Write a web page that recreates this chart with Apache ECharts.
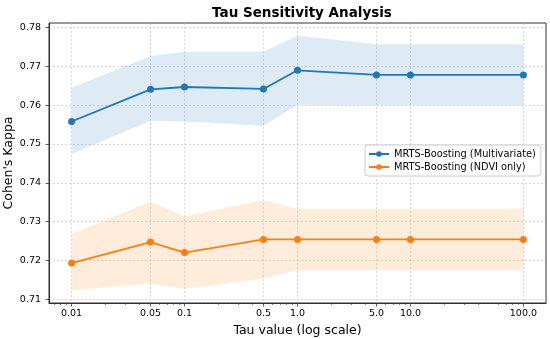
<!DOCTYPE html>
<html>
<head>
<meta charset="utf-8">
<script src="https://cdn.jsdelivr.net/npm/echarts@6/dist/echarts.min.js"></script>
<style>
html,body{margin:0;padding:0;background:#fff;}
#chart{width:550px;height:339px;}
</style>
</head>
<body>
<div id="chart"></div>
<script>
// ---- data ----
var tauValues = [0.01, 0.05, 0.1, 0.5, 1.0, 5.0, 10.0, 100.0];
var multiMean  = [0.7558, 0.7641, 0.7647, 0.7642, 0.7690, 0.7678, 0.7678, 0.7678];
var multiUpper = [0.7645, 0.7727, 0.7738, 0.7738, 0.7779, 0.7757, 0.7757, 0.7757];
var multiLower = [0.7474, 0.7560, 0.7558, 0.7547, 0.7601, 0.7600, 0.7600, 0.7600];
var ndviMean   = [0.7193, 0.7247, 0.7220, 0.7254, 0.7254, 0.7254, 0.7254, 0.7254];
var ndviUpper  = [0.7267, 0.7351, 0.7314, 0.7355, 0.7333, 0.7333, 0.7333, 0.7333];
var ndviLower  = [0.7123, 0.7140, 0.7126, 0.7153, 0.7175, 0.7175, 0.7175, 0.7175];

var xTickValues = [0.01, 0.05, 0.1, 0.5, 1, 5, 10, 100];
var xTickLabels = ['0.01', '0.05', '0.1', '0.5', '1.0', '5.0', '10.0', '100.0'];
var xMinorTicks = [0.007, 0.008, 0.009,
  0.02, 0.03, 0.04, 0.06, 0.07, 0.08, 0.09,
  0.2, 0.3, 0.4, 0.6, 0.7, 0.8, 0.9,
  2, 3, 4, 6, 7, 8, 9,
  20, 30, 40, 60, 70, 80, 90];
var yTickValues = [0.71, 0.72, 0.73, 0.74, 0.75, 0.76, 0.77, 0.78];

var seriesNames = ['MRTS-Boosting (Multivariate)', 'MRTS-Boosting (NDVI only)'];
var titleText = 'Tau Sensitivity Analysis';
var xName = 'Tau value (log scale)';
var yName = "Cohen's Kappa";

// ---- helpers ----
function pairs(xs, ys) { return xs.map(function (x, i) { return [x, ys[i]]; }); }
function triples(xs, lo, up) { return xs.map(function (x, i) { return [x, lo[i], up[i]]; }); }

var FONT = 'DejaVu Sans';
var BLUE = '#1f77b4', ORANGE = '#ff7f0e', AXIS = '#333333';

var chart = echarts.init(document.getElementById('chart'), null, {renderer: 'canvas'});

function bandSeries(lower, upper, color) {
  var data = triples(tauValues, lower, upper);
  return {
    type: 'custom', silent: true, z: 1, animation: false,
    data: data,
    encode: {x: 0, y: [1, 2]},
    renderItem: function (params, api) {
      if (params.dataIndex !== 0) return null;
      var pts = [], i;
      for (i = 0; i < data.length; i++) pts.push(api.coord([data[i][0], data[i][2]]));
      for (i = data.length - 1; i >= 0; i--) pts.push(api.coord([data[i][0], data[i][1]]));
      return {
        type: 'polygon',
        shape: {points: pts},
        style: {fill: color, opacity: 0.15, stroke: null}
      };
    }
  };
}

var option = {
  animation: false,
  backgroundColor: '#ffffff',
  textStyle: {fontFamily: FONT},
  title: {
    text: titleText,
    left: 297, top: 1, textAlign: 'center',
    textStyle: {fontFamily: FONT, fontSize: 13.5, fontWeight: 'bold', color: '#000'}
  },
  grid: {
    left: 49, right: 4, top: 23, bottom: 36,
    outerBoundsMode: 'none', containLabel: false,
    show: true, borderColor: AXIS, borderWidth: 1, backgroundColor: 'transparent'
  },
  legend: {
    orient: 'vertical',
    left: 365, top: 145,
    padding: [4, 5, 4, 3],
    itemGap: 3,
    itemWidth: 20, itemHeight: 7,
    backgroundColor: 'rgba(255,255,255,0.85)',
    borderColor: '#cccccc', borderWidth: 1, borderRadius: 3,
    textStyle: {fontFamily: FONT, fontSize: 9.8, color: '#000'},
    data: seriesNames
  },
  xAxis: [{
    type: 'log', logBase: 10,
    min: Math.pow(10, -2.2), max: Math.pow(10, 2.2),
    name: xName, nameLocation: 'middle', nameGap: 20,
    nameTextStyle: {fontFamily: FONT, fontSize: 12.5, color: '#000'},
    axisLine: {show: true, lineStyle: {color: AXIS, width: 1}},
    axisTick: {show: true, inside: false, length: 3.5, customValues: xTickValues, lineStyle: {color: AXIS, width: 0.8}},
    axisLabel: {
      customValues: xTickValues, margin: 6,
      fontFamily: FONT, fontSize: 9.5, color: '#000',
      formatter: function (v) {
        for (var i = 0; i < xTickValues.length; i++) {
          if (Math.abs(xTickValues[i] - v) / xTickValues[i] < 1e-6) return xTickLabels[i];
        }
        return '';
      }
    },
    splitLine: {show: true, lineStyle: {color: '#b0b0b0', width: 0.7, type: [2, 2], opacity: 0.7}},
    minorTick: {show: false}
  }, {
    type: 'log', logBase: 10, gridIndex: 0, position: 'bottom',
    min: Math.pow(10, -2.2), max: Math.pow(10, 2.2),
    axisLine: {show: false},
    axisTick: {show: true, inside: false, length: 2, customValues: xMinorTicks, lineStyle: {color: AXIS, width: 0.6}},
    axisLabel: {show: false},
    splitLine: {show: false}
  }],
  yAxis: {
    type: 'value',
    min: 0.709, max: 0.7812,
    name: yName, nameLocation: 'middle', nameGap: 34, nameRotate: 90,
    nameMoveOverlap: false,
    nameTextStyle: {fontFamily: FONT, fontSize: 12.5, color: '#000'},
    axisLine: {show: true, lineStyle: {color: AXIS, width: 1}},
    axisTick: {show: true, inside: false, length: 3.5, customValues: yTickValues, lineStyle: {color: AXIS, width: 0.8}},
    axisLabel: {
      customValues: yTickValues, margin: 8,
      fontFamily: FONT, fontSize: 9.5, color: '#000',
      formatter: function (v) { return v.toFixed(2); }
    },
    splitLine: {show: true, lineStyle: {color: '#b0b0b0', width: 0.7, type: [2, 2], opacity: 0.7}}
  },
  series: [
    bandSeries(multiLower, multiUpper, BLUE),
    bandSeries(ndviLower, ndviUpper, ORANGE),
    {
      name: seriesNames[0], type: 'line', data: pairs(tauValues, multiMean),
      symbol: 'circle', symbolSize: 7, z: 5,
      lineStyle: {color: BLUE, width: 1.8}, itemStyle: {color: BLUE}
    }, {
      name: seriesNames[1], type: 'line', data: pairs(tauValues, ndviMean),
      symbol: 'circle', symbolSize: 7, z: 5,
      lineStyle: {color: ORANGE, width: 1.8}, itemStyle: {color: ORANGE}
    }
  ]
};
chart.setOption(option);
</script>
</body>
</html>
